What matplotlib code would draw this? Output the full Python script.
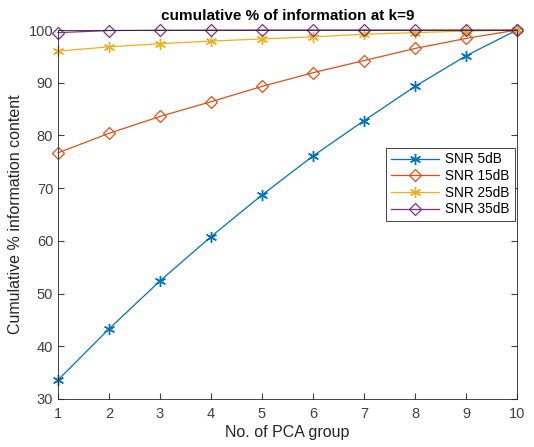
import numpy as np
import matplotlib
matplotlib.use('Agg')
import matplotlib.pyplot as plt

plt.rcParams['font.family'] = ['Liberation Sans', 'DejaVu Sans']

groups = [1, 2, 3, 4, 5, 6, 7, 8, 9, 10]
snr5 = [33.6, 43.3, 52.4, 60.8, 68.7, 76.1, 82.8, 89.3, 95.1, 100.0]
snr15 = [76.7, 80.4, 83.6, 86.4, 89.3, 91.9, 94.2, 96.5, 98.4, 100.0]
snr25 = [96.0, 96.8, 97.4, 97.9, 98.3, 98.7, 99.2, 99.5, 99.8, 100.0]
snr35 = [99.5, 99.9, 99.95, 99.97, 100.0, 100.0, 100.0, 100.0, 100.0, 100.0]
labels = ['SNR 5dB', 'SNR 15dB', 'SNR 25dB', 'SNR 35dB']

fig = plt.figure(figsize=(5.34, 4.47), dpi=100)
ax = fig.add_axes([58/534, 1-399/447, 459/534, 369/447])

asterisk = (6, 2, 0)
ax.plot(groups, snr5, color='#0072BD', marker=asterisk, ms=8, mew=1.0, lw=0.9, label=labels[0], clip_on=False)
ax.plot(groups, snr15, color='#D95319', marker='D', ms=6, mew=0.9, mfc='none', lw=0.9, label=labels[1], clip_on=False)
ax.plot(groups, snr25, color='#EDB120', marker=asterisk, ms=8, mew=1.0, lw=0.9, label=labels[2], clip_on=False)
ax.plot(groups, snr35, color='#7E2F8E', marker='D', ms=6, mew=0.9, mfc='none', lw=0.9, label=labels[3], clip_on=False)

ax.set_xlim(1, 10)
ax.set_ylim(30, 100)
ax.set_xticks(groups)
ax.set_yticks(np.arange(30, 101, 10))
ax.tick_params(direction='in', length=4, colors='#404040', labelsize=10.5, top=False, right=True)
ax.tick_params(axis='x', pad=6)
for s in ax.spines.values():
    s.set_color('#262626')
    s.set_linewidth(0.6)

ax.set_xlabel('No. of PCA group', fontsize=11.5, color='#262626', labelpad=3)
ax.set_ylabel('Cumulative % information content', fontsize=11.5, color='#262626')
ax.set_title('cumulative % of information at k=9', fontsize=11, fontweight='bold', pad=7)

leg = ax.legend(loc='upper left', bbox_to_anchor=(0.70, 0.70), fontsize=9.8,
                fancybox=False, framealpha=1, edgecolor='#262626',
                handlelength=3.5, borderpad=0.35, labelspacing=0.2, handletextpad=0.5)
leg.get_frame().set_linewidth(0.6)

fig.savefig('out.png', dpi=100)
